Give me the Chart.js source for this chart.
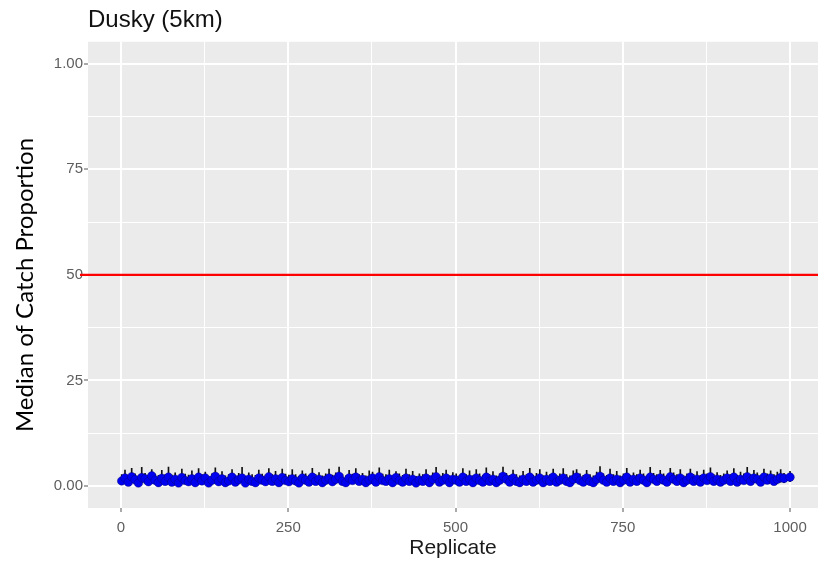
<!DOCTYPE html>
<html>
<head>
<meta charset="utf-8">
<script src="https://cdn.jsdelivr.net/npm/chart.js@4/dist/chart.umd.min.js"></script>
<style>
html,body{margin:0;padding:0;background:#fff;}
#wrap{width:818px;height:562px;}
</style>
</head>
<body>
<div id="wrap"><canvas id="c" width="818" height="562"></canvas></div>
<script>
// Chart text
const chartTitle = 'Dusky (5km)';
const xTitle = 'Replicate';
const yTitle = 'Median of Catch Proportion';

// Tick values and labels
const xTickValues = [0, 250, 500, 750, 1000];
const xTickLabels = ['0', '250', '500', '750', '1000'];
const yTickValues = [0, 0.25, 0.5, 0.75, 1];
const yTickLabels = ['0.00', '25', '50', '75', '1.00'];

// Reference line
const refLineValue = 0.5;

// Replicates shown (every 5th replicate, ending at 1000)
const replicates = Array.from({length: 200}, (_, i) => i === 199 ? 1000 : 1 + 5 * i);

// Median of catch proportion per replicate
const medianValues = [
0.012,0.019,0.009,0.022,0.015,0.007,0.020,0.017,0.010,0.024,
0.014,0.008,0.018,0.011,0.021,0.009,0.016,0.007,0.020,0.013,
0.010,0.017,0.008,0.021,0.012,0.019,0.007,0.014,0.023,0.010,
0.017,0.008,0.012,0.021,0.009,0.015,0.019,0.007,0.016,0.011,
0.008,0.019,0.014,0.010,0.022,0.011,0.017,0.008,0.020,0.013,
0.010,0.017,0.012,0.007,0.019,0.014,0.009,0.021,0.011,0.016,
0.008,0.014,0.019,0.010,0.016,0.023,0.011,0.008,0.019,0.013,
0.021,0.011,0.016,0.008,0.014,0.019,0.009,0.022,0.013,0.011,
0.017,0.008,0.020,0.013,0.009,0.019,0.011,0.016,0.007,0.014,
0.011,0.019,0.008,0.016,0.022,0.009,0.014,0.019,0.008,0.016,
0.014,0.009,0.021,0.011,0.016,0.008,0.019,0.013,0.009,0.021,
0.011,0.016,0.008,0.014,0.023,0.016,0.009,0.019,0.011,0.008,
0.016,0.011,0.021,0.009,0.014,0.019,0.008,0.016,0.011,0.021,
0.009,0.014,0.019,0.011,0.008,0.016,0.021,0.013,0.009,0.019,
0.011,0.008,0.016,0.023,0.014,0.009,0.019,0.011,0.016,0.008,
0.014,0.021,0.009,0.016,0.011,0.019,0.014,0.008,0.021,0.016,
0.011,0.019,0.014,0.009,0.022,0.016,0.011,0.019,0.008,0.014,
0.021,0.011,0.016,0.009,0.019,0.013,0.022,0.011,0.016,0.009,
0.014,0.019,0.011,0.021,0.009,0.016,0.013,0.022,0.011,0.019,
0.016,0.009,0.021,0.014,0.019,0.011,0.016,0.020,0.018,0.021
];

// Upper end of error bar
const upperValues = [
0.027,0.038,0.025,0.042,0.029,0.024,0.044,0.030,0.026,0.039,
0.028,0.025,0.037,0.027,0.045,0.026,0.031,0.023,0.040,0.028,
0.026,0.036,0.024,0.041,0.027,0.033,0.023,0.029,0.043,0.026,
0.034,0.024,0.027,0.039,0.025,0.030,0.044,0.023,0.031,0.027,
0.025,0.038,0.028,0.026,0.041,0.027,0.035,0.024,0.040,0.028,
0.026,0.039,0.027,0.023,0.036,0.029,0.025,0.042,0.027,0.032,
0.024,0.029,0.040,0.026,0.031,0.045,0.027,0.024,0.037,0.028,
0.041,0.027,0.030,0.024,0.036,0.033,0.025,0.043,0.028,0.027,
0.038,0.024,0.034,0.029,0.025,0.040,0.027,0.035,0.023,0.029,
0.027,0.039,0.024,0.031,0.044,0.026,0.030,0.038,0.024,0.032,
0.029,0.025,0.041,0.027,0.036,0.024,0.039,0.029,0.025,0.043,
0.027,0.034,0.024,0.029,0.045,0.030,0.025,0.038,0.027,0.024,
0.035,0.027,0.042,0.025,0.030,0.039,0.024,0.033,0.027,0.040,
0.025,0.029,0.041,0.027,0.024,0.036,0.039,0.029,0.025,0.037,
0.027,0.024,0.033,0.046,0.029,0.025,0.040,0.027,0.035,0.024,
0.029,0.042,0.025,0.031,0.027,0.038,0.029,0.024,0.044,0.030,
0.027,0.037,0.029,0.025,0.042,0.031,0.027,0.039,0.024,0.029,
0.040,0.027,0.034,0.025,0.038,0.029,0.043,0.027,0.032,0.025,
0.029,0.036,0.027,0.041,0.025,0.033,0.029,0.044,0.027,0.037,
0.031,0.025,0.040,0.029,0.036,0.027,0.033,0.039,0.030,0.035
];

// Lower end of error bar
const lowerValues = [
0.006,0.008,0.004,0.009,0.006,0.003,0.008,0.007,0.005,0.010,
0.006,0.004,0.008,0.005,0.009,0.004,0.007,0.003,0.009,0.006,
0.004,0.007,0.004,0.009,0.005,0.008,0.003,0.006,0.010,0.004,
0.007,0.004,0.005,0.009,0.004,0.006,0.008,0.003,0.007,0.005,
0.004,0.008,0.006,0.004,0.010,0.005,0.007,0.004,0.009,0.006,
0.004,0.007,0.005,0.003,0.008,0.006,0.004,0.009,0.005,0.007,
0.004,0.006,0.008,0.004,0.007,0.010,0.005,0.004,0.008,0.006,
0.009,0.005,0.007,0.004,0.006,0.008,0.004,0.010,0.006,0.005,
0.007,0.004,0.009,0.006,0.004,0.008,0.005,0.007,0.003,0.006,
0.005,0.008,0.004,0.007,0.010,0.004,0.006,0.008,0.004,0.007,
0.006,0.004,0.009,0.005,0.007,0.004,0.008,0.006,0.004,0.009,
0.005,0.007,0.004,0.006,0.010,0.007,0.004,0.008,0.005,0.004,
0.007,0.005,0.009,0.004,0.006,0.008,0.004,0.007,0.005,0.009,
0.004,0.006,0.008,0.005,0.004,0.007,0.009,0.006,0.004,0.008,
0.005,0.004,0.007,0.010,0.006,0.004,0.008,0.005,0.007,0.004,
0.006,0.009,0.004,0.007,0.005,0.008,0.006,0.004,0.009,0.007,
0.005,0.008,0.006,0.004,0.010,0.007,0.005,0.008,0.004,0.006,
0.009,0.005,0.007,0.004,0.008,0.006,0.010,0.005,0.007,0.004,
0.006,0.008,0.005,0.009,0.004,0.007,0.006,0.010,0.005,0.008,
0.007,0.004,0.009,0.006,0.008,0.005,0.007,0.009,0.008,0.010
];

const pointData = replicates.map((r, i) => ({x: r, y: medianValues[i]}));
const barData = replicates.map((r, i) => ({x: r, y: [lowerValues[i], upperValues[i]]}));

const isMajorX = v => xTickValues.some(t => Math.abs(t - v) < 1e-6);
const isMajorY = v => yTickValues.some(t => Math.abs(t - v) < 1e-6);

const panelBg = {
  id: 'panelBg',
  beforeDraw(chart) {
    const {ctx, chartArea: a} = chart;
    ctx.save();
    ctx.fillStyle = '#EBEBEB';
    ctx.fillRect(a.left, a.top, a.right - a.left, a.bottom - a.top);
    ctx.restore();
  }
};

// y-axis title drawn as canvas text, rotated, left of the panel
const yTitlePlugin = {
  id: 'yTitlePlugin',
  afterDraw(chart) {
    const {ctx} = chart;
    ctx.save();
    ctx.translate(25, 285);
    ctx.rotate(-Math.PI / 2);
    ctx.fillStyle = '#000000';
    ctx.font = '24px Lato, "Open Sans", sans-serif';
    ctx.textAlign = 'center';
    ctx.textBaseline = 'middle';
    ctx.fillText(yTitle, 0, 0);
    ctx.restore();
  }
};

new Chart(document.getElementById('c'), {
  data: {
    datasets: [
      {
        type: 'line',
        data: [{x: -200, y: refLineValue}, {x: 1200, y: refLineValue}],
        borderColor: '#FF0000',
        borderWidth: 2.2,
        pointRadius: 0,
        order: 0,
        clip: {left: 8, top: 0, right: 0, bottom: 0}
      },
      {
        type: 'scatter',
        data: pointData,
        backgroundColor: '#0000F0',
        borderColor: 'rgba(0,0,90,0.6)',
        borderWidth: 0.6,
        pointRadius: 4.3,
        order: 1
      },
      {
        type: 'bar',
        data: barData,
        backgroundColor: '#111111',
        borderWidth: 0,
        barThickness: 1,
        grouped: false,
        order: 2
      }
    ]
  },
  options: {
    responsive: false,
    animation: false,
    events: [],
    layout: {autoPadding: false, padding: {left: 0, right: 0, top: 0, bottom: 0}},
    plugins: {
      legend: {display: false},
      tooltip: {enabled: false},
      title: {
        display: true,
        text: chartTitle,
        align: 'start',
        fullSize: false,
        color: '#111111',
        font: {family: 'Liberation Sans, Arial, sans-serif', size: 24, weight: 'normal', lineHeight: 1.2},
        padding: {top: 6, bottom: 7}
      }
    },
    scales: {
      x: {
        type: 'linear',
        min: -49.3,
        max: 1041.8,
        offset: false,
        afterBuildTicks(scale) {
          scale.ticks = [0, 125, 250, 375, 500, 625, 750, 875, 1000].map(v => ({value: v}));
        },
        afterFit(scale) { scale.height = 54; },
        border: {display: false},
        grid: {
          offset: false,
          color: '#FFFFFF',
          lineWidth: c => (c.tick && isMajorX(c.tick.value)) ? 2 : 1,
          tickColor: c => (c.tick && isMajorX(c.tick.value)) ? '#555555' : 'rgba(0,0,0,0)',
          tickWidth: 1,
          tickLength: 4,
          drawTicks: true
        },
        ticks: {
          autoSkip: false,
          maxRotation: 0,
          padding: 7,
          color: '#5E5E5E',
          font: {family: 'Liberation Sans, Arial, sans-serif', size: 15},
          callback: v => {
            const i = xTickValues.findIndex(t => Math.abs(t - v) < 1e-6);
            return i >= 0 ? xTickLabels[i] : '';
          }
        },
        title: {
          display: true,
          text: xTitle,
          color: '#1A1A1A',
          font: {family: 'Liberation Sans, Arial, sans-serif', size: 21, lineHeight: 1.2},
          padding: {top: 0, bottom: 1}
        }
      },
      y: {
        type: 'linear',
        min: -0.0521,
        max: 1.0521,
        afterBuildTicks(scale) {
          scale.ticks = [0, 0.125, 0.25, 0.375, 0.5, 0.625, 0.75, 0.875, 1].map(v => ({value: v}));
        },
        afterFit(scale) { scale.width = 88; },
        border: {display: false},
        grid: {
          color: '#FFFFFF',
          lineWidth: c => (c.tick && isMajorY(c.tick.value)) ? 2 : 1,
          tickColor: c => (c.tick && isMajorY(c.tick.value)) ? '#555555' : 'rgba(0,0,0,0)',
          tickWidth: 1,
          tickLength: 4,
          drawTicks: true
        },
        ticks: {
          autoSkip: false,
          padding: 1,
          color: '#5E5E5E',
          font: {family: 'Liberation Sans, Arial, sans-serif', size: 15},
          callback: v => {
            const i = yTickValues.findIndex(t => Math.abs(t - v) < 1e-6);
            return i >= 0 ? yTickLabels[i] : '';
          }
        },
        title: {display: false}
      }
    }
  },
  plugins: [panelBg, yTitlePlugin]
});
</script>
</body>
</html>
